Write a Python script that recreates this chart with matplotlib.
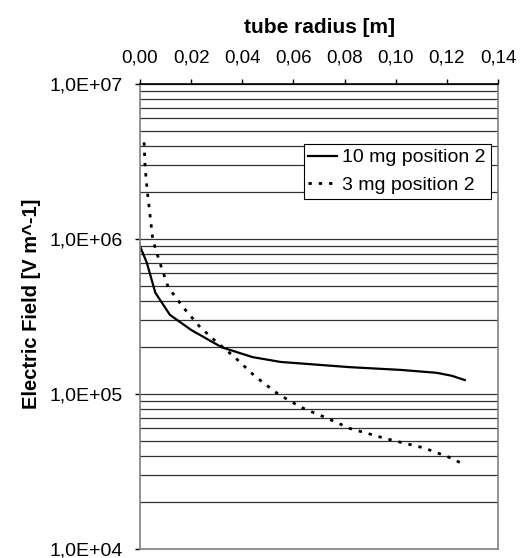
import math
import matplotlib
matplotlib.use("Agg")
import matplotlib.pyplot as plt
from matplotlib.ticker import FixedLocator, FuncFormatter, LogLocator, NullFormatter

plt.rcParams['font.family'] = ['Liberation Sans', 'DejaVu Sans']

# data
r_10mg = [0.0, 0.0027, 0.006, 0.0117, 0.020, 0.032, 0.044, 0.055, 0.082, 0.102, 0.116, 0.122, 0.127]
e_10mg = [9.0e5, 7.0e5, 4.5e5, 3.24e5, 2.59e5, 2.0e5, 1.73e5, 1.61e5, 1.49e5, 1.43e5, 1.37e5, 1.31e5, 1.23e5]

r_3mg = [0.0016, 0.0020, 0.0028, 0.004, 0.005, 0.0078, 0.011, 0.0168, 0.0235, 0.030, 0.037, 0.045,
         0.054, 0.063, 0.073, 0.082, 0.0966, 0.111, 0.1205, 0.1255]
e_3mg = [4.2e6, 2.9e6, 2.07e6, 1.39e6, 9.9e5, 7.0e5, 4.9e5, 3.64e5, 2.7e5, 2.16e5, 1.73e5, 1.3e5,
         1.0e5, 8.2e4, 7.0e4, 6.0e4, 5.13e4, 4.49e4, 3.93e4, 3.59e4]

x_ticks = [0.00, 0.02, 0.04, 0.06, 0.08, 0.10, 0.12, 0.14]
y_ticks = [1e4, 1e5, 1e6, 1e7]
labels = ["10 mg position 2", "3 mg position 2"]

fig = plt.figure(figsize=(5.31, 5.58), dpi=100)
ax = fig.add_axes([140/531, 1 - 549/558, 358/531, 465/558])

ax.plot(r_10mg, e_10mg, color='black', lw=1.6, label=labels[0])
ax.plot(r_3mg, e_3mg, color='black', lw=2.0, ls=(0, (1.2, 2.5)), label=labels[1])

ax.set_yscale('log')
ax.set_xlim(0, 0.14)
ax.set_ylim(1e4, 1e7)

ax.xaxis.set_ticks_position('top')
ax.xaxis.set_label_position('top')
ax.xaxis.set_major_locator(FixedLocator(x_ticks))
ax.xaxis.set_major_formatter(FuncFormatter(lambda v, p: f"{v:.2f}".replace('.', ',')))
ax.yaxis.set_major_locator(FixedLocator(y_ticks))
ax.yaxis.set_major_formatter(FuncFormatter(lambda v, p: "1,0E+%02d" % round(math.log10(v))))
ax.yaxis.set_minor_locator(LogLocator(base=10, subs=range(2, 10)))
ax.yaxis.set_minor_formatter(NullFormatter())

ax.tick_params(axis='x', direction='out', length=3.6, width=1, labelsize=13.5, pad=9.0)
ax.tick_params(axis='y', which='major', direction='out', length=3.6, width=1, labelsize=14, pad=8.6)
ax.tick_params(axis='y', which='minor', length=0)

ax.grid(True, axis='y', which='both', color='#333333', lw=0.9)
ax.set_axisbelow(True)

ax.spines['top'].set_color('black')
for s in ['left', 'right', 'bottom']:
    ax.spines[s].set_color('#808080')
for s in ax.spines.values():
    s.set_linewidth(1.2)

ax.set_xlabel("tube radius [m]", fontsize=15, fontweight='bold', labelpad=12)
ax.set_ylabel("Electric Field [V m^-1]", fontsize=14.5, fontweight='bold')
ax.yaxis.set_label_coords(-0.277, 0.527)

leg = ax.legend(loc='upper right', bbox_to_anchor=(0.98, 0.871), fontsize=14, frameon=True,
                fancybox=False, edgecolor='black', framealpha=1, borderpad=0.25,
                handlelength=1.45, handletextpad=0.3, labelspacing=0.5, borderaxespad=0)
leg.get_frame().set_linewidth(0.8)

fig.savefig("out.png", dpi=100)
